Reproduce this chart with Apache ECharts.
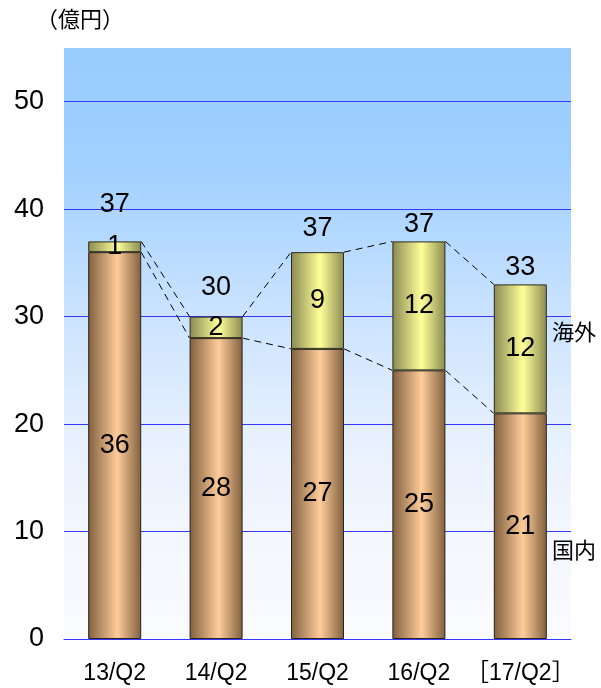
<!DOCTYPE html>
<html>
<head>
<meta charset="utf-8">
<script src="https://cdn.jsdelivr.net/npm/echarts@6/dist/echarts.min.js"></script>
<style>html,body{margin:0;padding:0;background:#fff;}#c{width:601px;height:688px;}</style>
</head>
<body>
<div id="c"></div>
<script>
const categories = ['13/Q2', '14/Q2', '15/Q2', '16/Q2', '［17/Q2］'];
const domestic = [36, 28, 27, 25, 21];
const overseas = [1, 2, 9, 12, 12];
const totalLabels = [37, 30, 37, 37, 33];
const yTicks = [0, 10, 20, 30, 40, 50];

// style only: vertical offsets (px) of the total labels above bar tops
const totalLabelOffsets = [-37, -29, -24, -17, -17];

const FONT = "'Liberation Sans', Arial, 'Noto Sans CJK JP', sans-serif";
const BAR_W = 53;
const VAL_FS = 27;

const chart = echarts.init(document.getElementById('c'), null, {renderer: 'canvas'});

function hGrad(edge, mid) {
  return new echarts.graphic.LinearGradient(0, 0, 1, 0, [
    {offset: 0, color: edge},
    {offset: 0.55, color: mid},
    {offset: 1, color: edge}
  ]);
}

const tops = domestic.map((d, i) => d + overseas[i]);
const connectorData = [];
for (let i = 0; i < categories.length - 1; i++) {
  connectorData.push([i, tops[i], tops[i + 1], domestic[i], domestic[i + 1]]);
}
const totalData = tops.map((t, i) => [i, t, totalLabels[i], totalLabelOffsets[i]]);

const GRID_BLUE = '#3636ff';

const option = {
  animation: false,
  textStyle: {fontFamily: FONT},
  grid: {
    left: 64, right: 30, top: 48, bottom: 49,
    show: true, borderWidth: 0,
    backgroundColor: new echarts.graphic.LinearGradient(0, 0, 0, 1, [
      {offset: 0, color: '#99ccff'},
      {offset: 0.2, color: '#a0d0ff'},
      {offset: 0.45, color: '#cbe3ff'},
      {offset: 0.65, color: '#e6f0fe'},
      {offset: 0.83, color: '#f4f7fe'},
      {offset: 1, color: '#fafbff'}
    ])
  },
  xAxis: {
    type: 'category',
    data: categories,
    axisLine: {show: true, lineStyle: {color: GRID_BLUE, width: 1}},
    axisTick: {show: false},
    axisLabel: {color: '#000', fontSize: 23, margin: 23, interval: 0, fontFamily: FONT}
  },
  yAxis: {
    type: 'value',
    min: 0, max: 55, interval: 10,
    axisLine: {show: false},
    axisTick: {show: false},
    axisLabel: {
      color: '#000', fontSize: 27, margin: 20, fontFamily: FONT,
      formatter: v => (yTicks.indexOf(v) >= 0 ? String(v) : '')
    },
    splitLine: {
      show: true,
      lineStyle: {color: [GRID_BLUE, GRID_BLUE, GRID_BLUE, GRID_BLUE, GRID_BLUE, GRID_BLUE, 'rgba(0,0,0,0)'], width: 1}
    }
  },
  series: [
    {
      name: '国内',
      type: 'bar',
      stack: 'total',
      barWidth: BAR_W,
      data: domestic,
      itemStyle: {color: hGrad('#80603f', '#ffcc99'), borderColor: '#2a2118', borderWidth: 1},
      label: {show: true, position: 'inside', color: '#000', fontSize: VAL_FS, fontFamily: FONT}
    },
    {
      name: '海外',
      type: 'bar',
      stack: 'total',
      barWidth: BAR_W,
      data: overseas,
      itemStyle: {color: hGrad('#8a8a52', '#ffff99'), borderColor: '#2a2a18', borderWidth: 1},
      label: {show: true, position: 'inside', color: '#000', fontSize: VAL_FS, fontFamily: FONT}
    },
    {
      type: 'custom',
      z: 5,
      data: connectorData,
      renderItem: function (params, api) {
        const i = api.value(0);
        const half = BAR_W / 2;
        const a1 = api.coord([i, api.value(1)]);
        const b1 = api.coord([i + 1, api.value(2)]);
        const a2 = api.coord([i, api.value(3)]);
        const b2 = api.coord([i + 1, api.value(4)]);
        const style = {stroke: '#000', lineWidth: 1, lineDash: [7, 5], fill: null};
        return {
          type: 'group',
          children: [
            {type: 'line', shape: {x1: a1[0] + half, y1: a1[1], x2: b1[0] - half, y2: b1[1]}, style: style},
            {type: 'line', shape: {x1: a2[0] + half, y1: a2[1], x2: b2[0] - half, y2: b2[1]}, style: style}
          ]
        };
      }
    },
    {
      type: 'custom',
      z: 6,
      data: totalData,
      renderItem: function (params, api) {
        const p = api.coord([api.value(0), api.value(1)]);
        return {
          type: 'text',
          x: p[0],
          y: p[1] + api.value(3),
          style: {
            text: String(api.value(2)),
            fill: '#000',
            font: VAL_FS + 'px ' + FONT,
            align: 'center',
            verticalAlign: 'middle'
          }
        };
      }
    }
  ],
  graphic: [
    {type: 'text', left: 36, top: 8, style: {text: '（億円）', font: "22px 'Noto Sans CJK JP', sans-serif", fill: '#000'}},
    {type: 'text', left: 552, top: 321, style: {text: '海外', font: "22px 'Noto Sans CJK JP', sans-serif", fill: '#000'}},
    {type: 'text', left: 552, top: 539, style: {text: '国内', font: "22px 'Noto Sans CJK JP', sans-serif", fill: '#000'}}
  ]
};

chart.setOption(option);
</script>
</body>
</html>
